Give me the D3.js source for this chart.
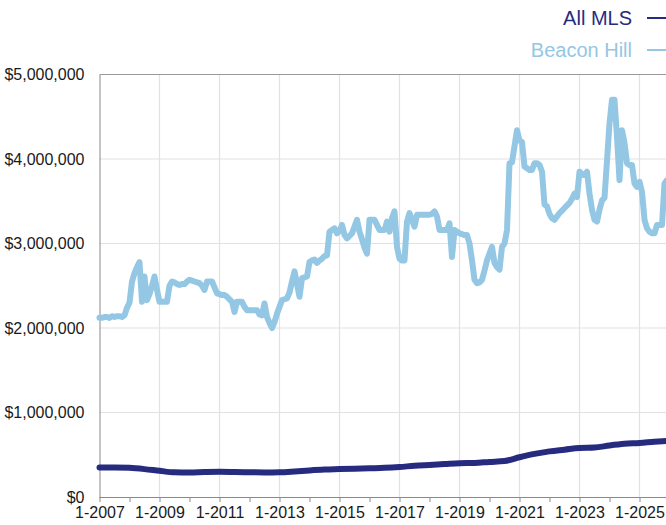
<!DOCTYPE html>
<html>
<head>
<meta charset="utf-8">
<script src="https://cdn.jsdelivr.net/npm/d3@7"></script>
<style>
  html, body { margin: 0; padding: 0; background: #fff; overflow: hidden; }
  svg { display: block; font-family: "Liberation Sans", Arial, Helvetica, sans-serif; }
</style>
</head>
<body>
<svg id="chart" width="666" height="525"></svg>
<script>
// ---- Data ----
const seriesNames = ["All MLS", "Beacon Hill"];
const yTickValues = [0, 1000000, 2000000, 3000000, 4000000, 5000000];
const xLabelYears = [2007, 2009, 2011, 2013, 2015, 2017, 2019, 2021, 2023, 2025];
const xMinorYears = [2008, 2010, 2012, 2014, 2016, 2018, 2020, 2022, 2024];

// Beacon Hill monthly median price (millions), starting Jan 2007
const beaconStart = 2007;
const beaconValues = [
  2.12, 2.12, 2.13, 2.13, 2.12, 2.14, 2.13, 2.14, 2.14, 2.13, 2.15, 2.24,
  2.30, 2.55, 2.65, 2.72, 2.78, 2.31, 2.61, 2.33, 2.40, 2.50, 2.61, 2.45,
  2.31, 2.31, 2.31, 2.31, 2.50, 2.55, 2.54, 2.52, 2.51, 2.52, 2.52, 2.55,
  2.57, 2.56, 2.55, 2.54, 2.53, 2.50, 2.45, 2.55, 2.55, 2.55, 2.48, 2.41,
  2.40, 2.39, 2.39, 2.37, 2.34, 2.31, 2.19, 2.31, 2.31, 2.31, 2.25, 2.21,
  2.21, 2.21, 2.21, 2.21, 2.16, 2.15, 2.29, 2.13, 2.06, 2.00, 2.07, 2.17,
  2.25, 2.33, 2.34, 2.35, 2.42, 2.55, 2.67, 2.52, 2.37, 2.59, 2.60, 2.61,
  2.78, 2.80, 2.81, 2.77, 2.80, 2.82, 2.85, 2.86, 3.14, 3.16, 3.18, 3.12,
  3.15, 3.22, 3.10, 3.06, 3.09, 3.12, 3.20, 3.28, 3.14, 3.05, 2.95, 2.88,
  3.28, 3.28, 3.28, 3.22, 3.16, 3.16, 3.16, 3.26, 3.14, 3.30, 3.38, 2.96,
  2.82, 2.80, 2.80, 3.26, 3.36, 3.28, 3.20, 3.34, 3.34, 3.34, 3.34, 3.34,
  3.34, 3.35, 3.38, 3.32, 3.16, 3.16, 3.16, 3.16, 3.24, 2.84, 3.16, 3.14,
  3.12, 3.11, 3.10, 3.10, 3.00, 2.80, 2.57, 2.53, 2.54, 2.57, 2.68, 2.80,
  2.88, 2.96, 2.77, 2.72, 2.69, 2.96, 3.00, 3.16, 3.95, 3.96, 4.15, 4.34,
  4.22, 4.20, 3.91, 3.89, 3.87, 3.87, 3.95, 3.95, 3.93, 3.85, 3.46, 3.44,
  3.35, 3.30, 3.28, 3.32, 3.36, 3.39, 3.42, 3.45, 3.48, 3.53, 3.59, 3.55,
  3.85, 3.82, 3.81, 3.85, 3.59, 3.40, 3.28, 3.26, 3.40, 3.51, 3.54, 3.98,
  4.42, 4.70, 4.70, 4.26, 3.75, 4.34, 4.19, 3.95, 3.93, 3.93, 3.71, 3.67,
  3.73, 3.61, 3.28, 3.18, 3.14, 3.12, 3.12, 3.22, 3.22, 3.22, 3.71, 3.75
];

// All MLS median price (millions), semi-annual readings
const mlsDates = [
  2007.0, 2007.5, 2008.0, 2008.5, 2009.0, 2009.5, 2010.0, 2010.5, 2011.0, 2011.5,
  2012.0, 2012.5, 2013.0, 2013.5, 2014.0, 2014.5, 2015.0, 2015.5, 2016.0, 2016.5,
  2017.0, 2017.5, 2018.0, 2018.5, 2019.0, 2019.5, 2020.0, 2020.5, 2021.0, 2021.5,
  2022.0, 2022.5, 2023.0, 2023.5, 2024.0, 2024.5, 2025.0, 2025.5, 2025.92
];
const mlsValues = [
  0.350, 0.350, 0.345, 0.330, 0.310, 0.292, 0.290, 0.295, 0.298, 0.296,
  0.293, 0.290, 0.292, 0.302, 0.315, 0.325, 0.330, 0.335, 0.340, 0.345,
  0.355, 0.370, 0.380, 0.390, 0.400, 0.403, 0.415, 0.425, 0.470, 0.510,
  0.540, 0.560, 0.580, 0.585, 0.610, 0.630, 0.640, 0.655, 0.665
];

const colors = { "All MLS": "#272b80", "Beacon Hill": "#94c7e3" };

// ---- Build ----
const svg = d3.select("#chart");
const plotLeft = 99.5, plotTop = 74.5, plotBottom = 497;

const x = d3.scaleLinear().domain([2007, 2026]).range([plotLeft, plotLeft + 19 * 30]);
const y = d3.scaleLinear().domain([0, 5000000]).range([plotBottom, plotTop]);

const beacon = beaconValues.map((v, i) => ({ t: beaconStart + i / 12, v: v * 1e6 }));
const mls = mlsDates.map((t, i) => ({ t, v: mlsValues[i] * 1e6 }));

// gridlines
const grid = svg.append("g");
grid.selectAll("line.h").data(yTickValues.slice(1, -1)).enter().append("line")
  .attr("x1", plotLeft).attr("x2", 700)
  .attr("y1", d => y(d)).attr("y2", d => y(d))
  .attr("stroke", "#e2e2e2").attr("stroke-width", 1.2);
grid.selectAll("line.v").data(xLabelYears.slice(1)).enter().append("line")
  .attr("x1", d => x(d)).attr("x2", d => x(d))
  .attr("y1", plotTop).attr("y2", plotBottom)
  .attr("stroke", "#e2e2e2").attr("stroke-width", 1.2);

// frame top line
svg.append("line").attr("x1", plotLeft).attr("x2", 700).attr("y1", plotTop).attr("y2", plotTop)
  .attr("stroke", "#9a9a9a").attr("stroke-width", 1);

// x axis
const xAxis = d3.axisBottom(x)
  .tickValues(xLabelYears.concat(xMinorYears).sort())
  .tickSize(5)
  .tickFormat(d => xLabelYears.includes(d) ? "1-" + d : "");
const gx = svg.append("g").attr("transform", `translate(0,${plotBottom})`).call(xAxis);
gx.select(".domain").attr("stroke", "#8a8a8a").attr("d", `M${plotLeft},0.5H700`);
gx.selectAll(".tick line").attr("stroke", "#8a8a8a");
gx.selectAll(".tick text").attr("font-size", 16).attr("fill", "#1a1a1a")
  .attr("font-family", "Liberation Sans, Arial, sans-serif").attr("y", 10).attr("dy", "0.71em");

// y axis
const yAxis = d3.axisLeft(y).tickValues(yTickValues).tickSize(0).tickPadding(15)
  .tickFormat(d => "$" + d3.format(",")(d));
const gy = svg.append("g").attr("transform", `translate(${plotLeft},0)`).call(yAxis);
gy.select(".domain").attr("stroke", "#8a8a8a");
gy.selectAll(".tick text").attr("font-size", 16).attr("fill", "#1a1a1a")
  .attr("font-family", "Liberation Sans, Arial, sans-serif");

// lines
svg.append("path").datum(mls)
  .attr("d", d3.line().x(d => x(d.t)).y(d => y(d.v)).curve(d3.curveMonotoneX))
  .attr("fill", "none").attr("stroke", colors["All MLS"]).attr("stroke-width", 6)
  .attr("stroke-linejoin", "round").attr("stroke-linecap", "round");
svg.append("path").datum(beacon)
  .attr("d", d3.line().x(d => x(d.t)).y(d => y(d.v)))
  .attr("fill", "none").attr("stroke", colors["Beacon Hill"]).attr("stroke-width", 6)
  .attr("stroke-linejoin", "round").attr("stroke-linecap", "round");

// legend
const legend = svg.append("g");
seriesNames.forEach((name, i) => {
  const ly = 25 + i * 32;
  legend.append("text").attr("x", 632).attr("y", ly).attr("text-anchor", "end")
    .attr("font-size", 20).attr("fill", colors[name]).text(name);
  legend.append("line").attr("x1", 647).attr("x2", 680)
    .attr("y1", ly - 7).attr("y2", ly - 7)
    .attr("stroke", colors[name]).attr("stroke-width", 2);
});
</script>
</body>
</html>
